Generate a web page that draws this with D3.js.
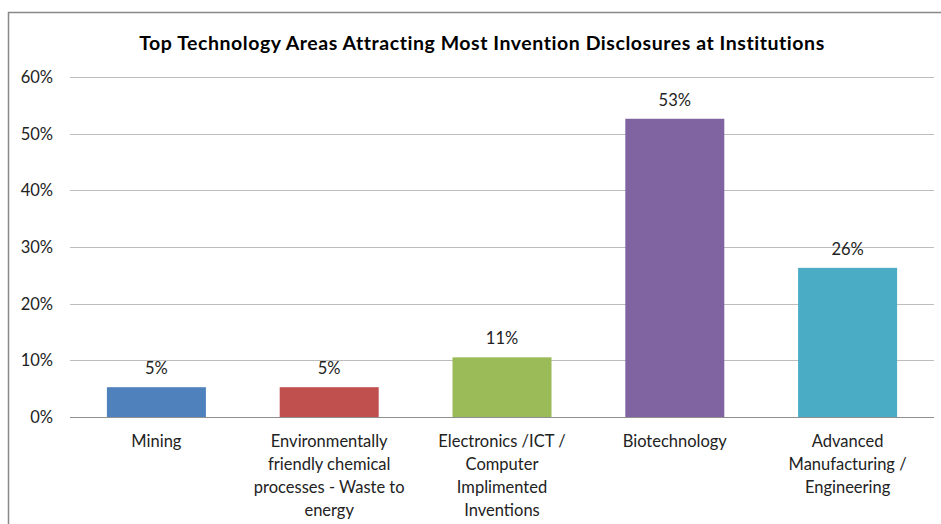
<!DOCTYPE html>
<html><head><meta charset="utf-8">
<script src="https://cdn.jsdelivr.net/npm/d3@7"></script>
<style>body{margin:0;background:#fff}svg{display:block}</style>
</head><body>
<script>
const categories = [
  ["Mining"],
  ["Environmentally", "friendly chemical", "processes - Waste to", "energy"],
  ["Electronics /ICT /", "Computer", "Implimented", "Inventions"],
  ["Biotechnology"],
  ["Advanced", "Manufacturing /", "Engineering"]
];
const values = [0.0526, 0.0526, 0.1053, 0.5263, 0.2632];
const valueLabels = ["5%", "5%", "11%", "53%", "26%"];
const colors = ["#4F81BD", "#C0504D", "#9BBB59", "#8064A2", "#4BACC6"];
const yTicks = [0, 0.1, 0.2, 0.3, 0.4, 0.5, 0.6];
const title = "Top Technology Areas Attracting Most Invention Disclosures at Institutions";

const W = 941, H = 524;
const font = "Lato, 'Open Sans', sans-serif";
const svg = d3.select("body").append("svg").attr("width", W).attr("height", H);

svg.append("rect").attr("x", 8.5).attr("y", 12.5).attr("width", W + 10).attr("height", H + 10)
  .attr("fill", "#fff").attr("stroke", "#888").attr("stroke-width", 1.5);

svg.append("text").attr("x", 482).attr("y", 50).attr("text-anchor", "middle")
  .attr("font-family", font).attr("font-weight", "bold").attr("font-size", 19.5)
  .attr("letter-spacing", 0.55).attr("fill", "#000")
  .text(title);

const x = d3.scaleBand().domain(d3.range(values.length)).range([70, 934]).paddingInner(0.427).paddingOuter(0.2135);
const y = d3.scaleLinear().domain([0, 0.6]).range([417, 77]);

const g = svg.append("g");
g.selectAll("line.grid").data(yTicks).join("line").attr("class", "grid")
  .attr("x1", 70).attr("x2", 934)
  .attr("y1", d => Math.round(y(d)) + 0.5).attr("y2", d => Math.round(y(d)) + 0.5)
  .attr("stroke", d => d === 0 ? "#909090" : "#bdbdbd").attr("stroke-width", 1.2);

g.selectAll("text.tick").data(yTicks).join("text").attr("class", "tick")
  .attr("x", 53).attr("y", d => y(d) + 6).attr("text-anchor", "end")
  .attr("font-family", font).attr("font-size", 16.5).attr("fill", "#222")
  .text(d => d3.format(".0%")(d));

g.selectAll("rect.bar").data(values).join("rect").attr("class", "bar")
  .attr("x", (d, i) => x(i)).attr("width", x.bandwidth())
  .attr("y", d => y(d)).attr("height", d => y(0) - y(d))
  .attr("fill", (d, i) => colors[i]);

g.selectAll("text.val").data(values).join("text").attr("class", "val")
  .attr("x", (d, i) => x(i) + x.bandwidth() / 2).attr("y", d => y(d) - 13)
  .attr("text-anchor", "middle").attr("font-family", font).attr("font-size", 16.5).attr("fill", "#222")
  .text((d, i) => valueLabels[i]);

const cat = g.selectAll("text.cat").data(categories).join("text").attr("class", "cat")
  .attr("text-anchor", "middle").attr("font-family", font).attr("font-size", 16.5).attr("fill", "#222");
cat.each(function(lines, i) {
  const t = d3.select(this);
  lines.forEach((ln, k) => {
    t.append("tspan").attr("x", x(i) + x.bandwidth() / 2).attr("y", 447 + k * 23).text(ln);
  });
});
</script>
</body></html>
